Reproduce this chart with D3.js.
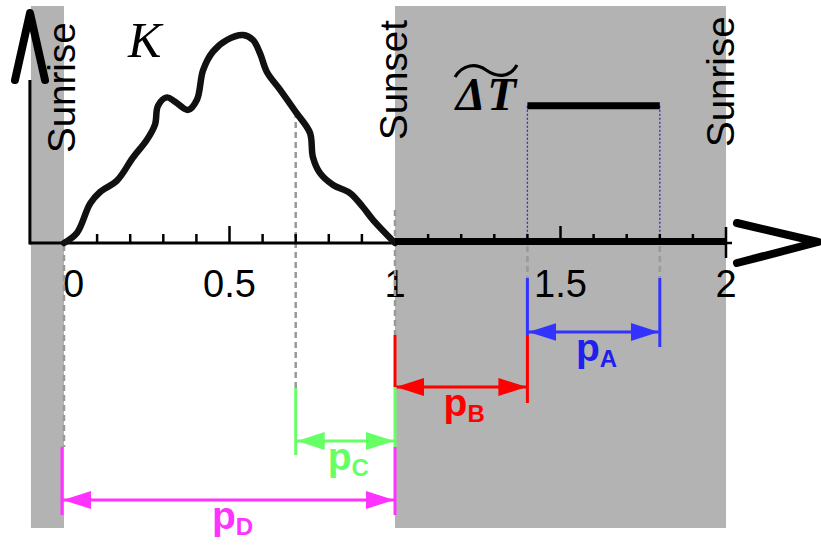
<!DOCTYPE html>
<html>
<head>
<meta charset="utf-8">
<script src="https://cdn.jsdelivr.net/npm/d3@7"></script>
<style>
  body { margin: 0; background: #fff; }
  svg { display: block; }
  .tick-label { font-family: 'Liberation Sans', Arial, sans-serif; font-size: 38px; }
  .side-label { font-family: 'Liberation Sans', Arial, sans-serif; font-size: 38.5px; }
  .p-label { font-family: 'Liberation Sans', Arial, sans-serif; font-weight: bold; font-size: 39px; }
</style>
</head>
<body>
<script>
// Chart values
const tickValues = [0, 0.5, 1, 1.5, 2];
const tickLabels = ['0', '0.5', '1', '1.5', '2'];
const minorTicks = [0.1, 0.2, 0.3, 0.4, 0.6, 0.7, 0.8, 0.9, 1.1, 1.2, 1.3, 1.4, 1.6, 1.7, 1.8, 1.9];

// kernel K
const kX = [0, 0.039, 0.079, 0.109, 0.16, 0.208, 0.25, 0.275, 0.284, 0.311, 0.335, 0.375, 0.402, 0.42,
            0.45, 0.492, 0.541, 0.571, 0.592, 0.613, 0.653, 0.70, 0.743, 0.752, 0.773, 0.813, 0.864,
            0.903, 0.934, 1.0];
const kY = [0, 0.048, 0.19, 0.245, 0.30, 0.41, 0.495, 0.57, 0.66, 0.70, 0.68, 0.64, 0.69, 0.83,
            0.92, 0.976, 1.0, 0.976, 0.913, 0.822, 0.736, 0.63, 0.53, 0.413, 0.337, 0.279, 0.24,
            0.173, 0.11, 0];

// night shading (sunset to sunrise)
const nights = [[-0.1, 0], [1, 2]];
const sunLabels = ['Sunrise', 'Sunset', 'Sunrise'];
const sunX = [0.033, 1.036, 2.024];

// the ΔT window
const dtStart = 1.4;
const dtEnd = 1.8;
const dtLevel = 0.66;

// intervals p_A .. p_D
const pNames = ['A', 'B', 'C', 'D'];
const pStart = [1.4, 1.0, 0.7, 0.0];
const pEnd = [1.8, 1.4, 1.0, 1.0];
const pColors = ['#3333ff', '#ff0000', '#66ff66', '#ff33ff'];
const pTextColors = ['#2020ee', '#ff0000', '#66ff66', '#ff33ff'];

const w = 821;
const h = 545;
const svg = d3.select('body')
              .append('svg')
              .attr('width', w)
              .attr('height', h);

const xScale = d3.scaleLinear()
                 .domain([0, 2])
                 .range([64, 726]);

const yScale = d3.scaleLinear()
                 .domain([0, 1])
                 .range([243, 35]);

const y0 = yScale(0);

// gray night bands
svg.selectAll('rect.night')
   .data(nights)
   .enter()
   .append('rect')
   .attr('class', 'night')
   .attr('x', d => xScale(d[0]))
   .attr('y', 6)
   .attr('width', d => xScale(d[1]) - xScale(d[0]))
   .attr('height', 522)
   .attr('fill', '#b3b3b3');

// tick labels
svg.selectAll('text.tick-label')
   .data(tickValues)
   .enter()
   .append('text')
   .attr('class', 'tick-label')
   .attr('x', (d, i) => i == 0 ? xScale(d) - 1 : xScale(d))
   .attr('y', 297)
   .attr('text-anchor', (d, i) => i == 0 ? 'start' : 'middle')
   .text((d, i) => tickLabels[i]);

// sunrise / sunset labels
svg.selectAll('text.side-label')
   .data(sunX)
   .enter()
   .append('text')
   .attr('class', 'side-label')
   .attr('transform', (d, i) => 'translate(' + xScale(d) + ',' + [153, 140, 147][i] + ') rotate(-90)')
   .text((d, i) => sunLabels[i]);

// gray dashed guides
const dashed = [[0, y0 + 2, 447], [0.7, yScale(0.63), 388], [1, 210, 335],
                [dtStart, y0 + 3, 278], [dtEnd, y0 + 3, 278]];
svg.selectAll('line.guide')
   .data(dashed)
   .enter()
   .append('line')
   .attr('class', 'guide')
   .attr('x1', d => xScale(d[0]))
   .attr('x2', d => xScale(d[0]))
   .attr('y1', d => d[1])
   .attr('y2', d => d[2])
   .attr('stroke', '#999')
   .attr('stroke-width', 2.5)
   .attr('stroke-dasharray', '6,4');

// blue dotted lines from the ΔT bar to the axis
svg.selectAll('line.dt')
   .data([dtStart, dtEnd])
   .enter()
   .append('line')
   .attr('class', 'dt')
   .attr('x1', d => xScale(d))
   .attr('x2', d => xScale(d))
   .attr('y1', yScale(dtLevel))
   .attr('y2', y0)
   .attr('stroke', '#2a2ac8')
   .attr('stroke-width', 1.3)
   .attr('stroke-dasharray', '2,2');

// axes
svg.append('line')
   .attr('x1', xScale(-0.1) - 1).attr('x2', xScale(2))
   .attr('y1', y0).attr('y2', y0)
   .attr('stroke', '#000').attr('stroke-width', 3);

svg.append('line')
   .attr('x1', xScale(-0.1) - 1).attr('x2', xScale(-0.1) - 1)
   .attr('y1', y0 + 1.5).attr('y2', 80)
   .attr('stroke', '#000').attr('stroke-width', 3);

svg.selectAll('line.minor')
   .data(minorTicks)
   .enter()
   .append('line')
   .attr('class', 'minor')
   .attr('x1', d => xScale(d)).attr('x2', d => xScale(d))
   .attr('y1', y0).attr('y2', y0 - 9)
   .attr('stroke', '#000').attr('stroke-width', 2.5);

svg.selectAll('line.major')
   .data([0.5, 1.5])
   .enter()
   .append('line')
   .attr('class', 'major')
   .attr('x1', d => xScale(d)).attr('x2', d => xScale(d))
   .attr('y1', y0).attr('y2', y0 - 17)
   .attr('stroke', '#000').attr('stroke-width', 2.5);

svg.append('line')
   .attr('x1', xScale(2)).attr('x2', xScale(2))
   .attr('y1', y0 - 16).attr('y2', y0 + 15)
   .attr('stroke', '#000').attr('stroke-width', 2.5);

svg.append('line')
   .attr('x1', xScale(1.998) - 12).attr('x2', xScale(2) + 6)
   .attr('y1', y0).attr('y2', y0)
   .attr('stroke', '#000').attr('stroke-width', 2.5);

// arrow heads of the axes
svg.append('path')
   .attr('d', 'M15,80 L30,13 L45,80')
   .attr('fill', 'none').attr('stroke', '#000')
   .attr('stroke-width', 8).attr('stroke-linecap', 'round').attr('stroke-linejoin', 'round');

svg.append('path')
   .attr('d', 'M737,223 L818,242 L737,263')
   .attr('fill', 'none').attr('stroke', '#000')
   .attr('stroke-width', 8).attr('stroke-linecap', 'round').attr('stroke-linejoin', 'round');

// kernel curve and the zero part of it
const line = d3.line()
               .x(d => xScale(d[0]))
               .y(d => yScale(d[1]))
               .curve(d3.curveCatmullRom);

svg.append('path')
   .datum(kX.map((x, i) => [x, kY[i]]))
   .attr('d', line)
   .attr('fill', 'none')
   .attr('stroke', '#111')
   .attr('stroke-width', 6.5)
   .attr('stroke-linecap', 'round');

svg.append('line')
   .attr('x1', xScale(1)).attr('x2', xScale(2))
   .attr('y1', y0 - 1.5).attr('y2', y0 - 1.5)
   .attr('stroke', '#000').attr('stroke-width', 7);

// ΔT bar
svg.append('line')
   .attr('x1', xScale(dtStart)).attr('x2', xScale(dtEnd))
   .attr('y1', yScale(dtLevel)).attr('y2', yScale(dtLevel))
   .attr('stroke', '#000').attr('stroke-width', 7);

svg.append('text')
   .attr('x', 128)
   .attr('y', 57)
   .attr('font-family', 'Liberation Serif, serif')
   .attr('font-style', 'italic')
   .attr('font-size', 50)
   .text('K');

svg.append('text')
   .attr('x', 518)
   .attr('y', 110)
   .attr('text-anchor', 'end')
   .attr('font-family', 'Liberation Serif, serif')
   .attr('font-style', 'italic')
   .attr('font-weight', 'bold')
   .attr('font-size', 47)
   .attr('letter-spacing', 2)
   .text('ΔT');

svg.append('path')
   .attr('d', 'M455,77 C463,64 476,63 486,70 S509,79 517,65')
   .attr('fill', 'none').attr('stroke', '#000').attr('stroke-width', 3.2);

// interval brackets
const leftTops = [278, 335, 388, 447];
const leftBottoms = [335, 387, 455, 515];
const rightTops = [278, 335, 387, 447];
const rightBottoms = [347, 403, 447, 515];
const arrowY = [332, 387, 441, 500];

const defs = svg.append('defs');
pColors.forEach((c, i) => {
  defs.append('marker')
      .attr('id', 'arr' + i)
      .attr('viewBox', '0 0 28 18')
      .attr('refX', 28).attr('refY', 9)
      .attr('markerWidth', 28).attr('markerHeight', 18)
      .attr('markerUnits', 'userSpaceOnUse')
      .attr('orient', 'auto-start-reverse')
      .append('path')
      .attr('d', 'M0,0 L28,9 L0,18 Z')
      .attr('fill', c);
});

pNames.forEach((name, i) => {
  const xa = xScale(pStart[i]);
  const xb = xScale(pEnd[i]);
  const c = pColors[i];
  const lx = i == 3 ? xa - 2 : xa;
  svg.append('line')
     .attr('x1', lx).attr('x2', lx)
     .attr('y1', leftTops[i]).attr('y2', leftBottoms[i])
     .attr('stroke', c).attr('stroke-width', 3);
  svg.append('line')
     .attr('x1', xb).attr('x2', xb)
     .attr('y1', rightTops[i]).attr('y2', rightBottoms[i])
     .attr('stroke', c).attr('stroke-width', 3);
  svg.append('line')
     .attr('x1', lx + 1).attr('x2', xb - 1)
     .attr('y1', arrowY[i]).attr('y2', arrowY[i])
     .attr('stroke', c).attr('stroke-width', 3)
     .attr('marker-start', 'url(#arr' + i + ')')
     .attr('marker-end', 'url(#arr' + i + ')');
  const t = svg.append('text')
               .attr('class', 'p-label')
               .attr('x', (xa + xb) / 2 + 3)
               .attr('y', arrowY[i] + 29)
               .attr('text-anchor', 'middle')
               .attr('fill', pTextColors[i]);
  t.append('tspan').text('p');
  t.append('tspan').attr('font-size', 24).attr('dy', 6).text(name);
});
</script>
</body>
</html>
